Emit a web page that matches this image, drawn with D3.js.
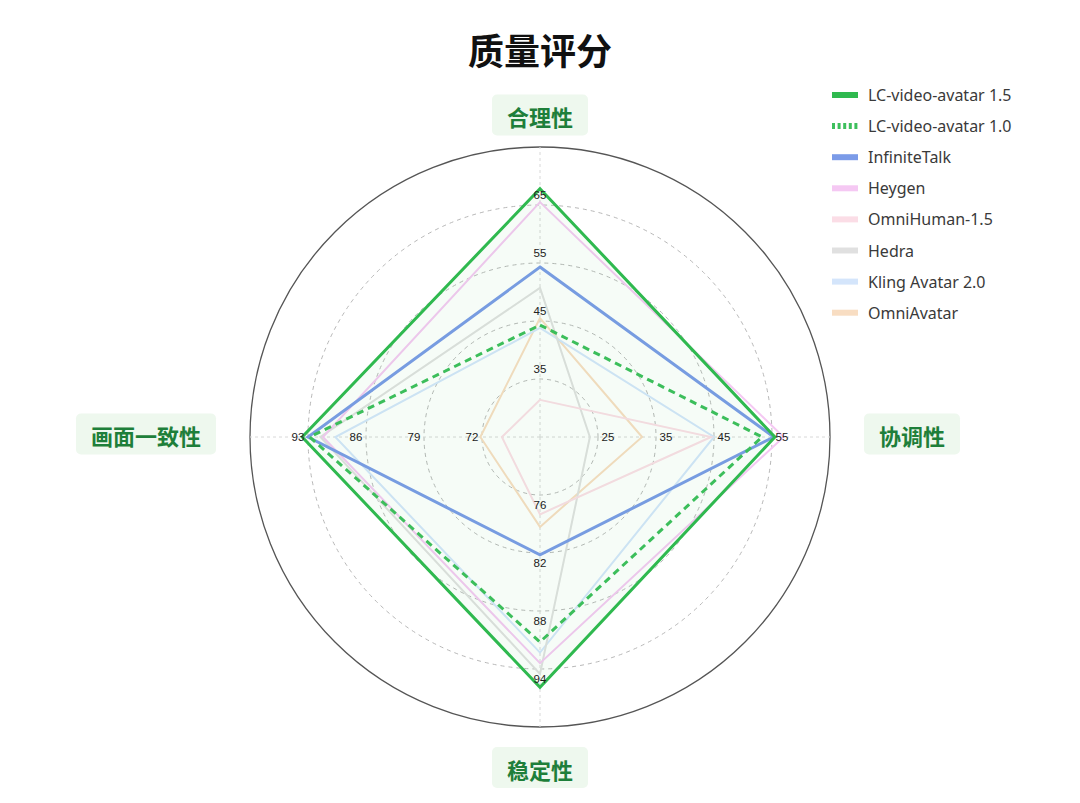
<!DOCTYPE html>
<html>
<head>
<meta charset="utf-8">
<script src="https://cdn.jsdelivr.net/npm/d3@7"></script>
<style>
    body { margin: 0; background: #fff; }
    svg { display: block; }
</style>
</head>
<body>
<svg id="chart"></svg>
<script>
// Indicators, in order: top, right, bottom, left
const indicators = ["合理性", "协调性", "稳定性", "画面一致性"];
const indicatorMin = [25, 15, 70, 65];
const indicatorMax = [75, 65, 100, 100];
const tickLabels = [
    [35, 45, 55, 65],
    [25, 35, 45, 55],
    [76, 82, 88, 94],
    [72, 79, 86, 93]
];

const seriesNames = [
    "LC-video-avatar 1.5",
    "LC-video-avatar 1.0",
    "InfiniteTalk",
    "Heygen",
    "OmniHuman-1.5",
    "Hedra",
    "Kling Avatar 2.0",
    "OmniAvatar"
];

// values per series: [合理性, 协调性, 稳定性, 画面一致性]
const lcAvatar15 = [67.8, 55.5, 95.9, 93.7];
const lcAvatar10 = [44.3, 53.3, 91.2, 92.8];
const infiniteTalk = [54.3, 55.3, 82.2, 93.0];
const heygen = [65.5, 57.0, 93.4, 91.2];
const omniHuman = [31.4, 44.5, 78.0, 69.6];
const hedra = [50.7, 23.6, 94.5, 91.5];
const klingAvatar = [43.8, 45.0, 92.3, 89.7];
const omniAvatar = [45.5, 32.6, 79.3, 72.2];

const seriesValues = [lcAvatar15, lcAvatar10, infiniteTalk, heygen, omniHuman, hedra, klingAvatar, omniAvatar];
const seriesColors = ["#2fb94f", "#3dbf5c", "#7b9be8", "#f5c8f3", "#fbdde6", "#e0e0e0", "#d4e5fb", "#f8ddc2"];

const width = 1080;
const height = 803;
const cx = 540, cy = 437, R = 290;
const splitNumber = 5;

const svg = d3.select("#chart").attr("width", width).attr("height", height);

// one scale per axis
const scales = indicators.map((d, i) =>
    d3.scaleLinear().domain([indicatorMin[i], indicatorMax[i]]).range([0, R]));
const angles = [-Math.PI / 2, 0, Math.PI / 2, Math.PI];

function point(i, r) {
    return [cx + r * Math.cos(angles[i]), cy + r * Math.sin(angles[i])];
}

// Title
svg.append("text")
    .attr("x", cx).attr("y", 49)
    .attr("text-anchor", "middle")
    .attr("dominant-baseline", "central")
    .attr("font-family", "'Noto Sans CJK SC', sans-serif")
    .attr("font-size", 36)
    .attr("font-weight", "bold")
    .attr("fill", "#111")
    .text("质量评分");

// Split rings
const rings = d3.range(1, splitNumber + 1).map(k => R * k / splitNumber);
svg.append("g").selectAll("circle")
    .data(rings)
    .join("circle")
    .attr("cx", cx).attr("cy", cy)
    .attr("r", d => d)
    .attr("fill", "none")
    .attr("stroke", (d, i) => i === splitNumber - 1 ? "#555" : "#b8b8b8")
    .attr("stroke-width", (d, i) => i === splitNumber - 1 ? 1.3 : 1)
    .attr("stroke-dasharray", (d, i) => i === splitNumber - 1 ? null : "4 4");

// Axis lines
svg.append("g").selectAll("line")
    .data(indicators)
    .join("line")
    .attr("x1", cx).attr("y1", cy)
    .attr("x2", (d, i) => point(i, R)[0])
    .attr("y2", (d, i) => point(i, R)[1])
    .attr("stroke", "#d8d8d8")
    .attr("stroke-width", 1)
    .attr("stroke-dasharray", "3 3");

// Series polygons (drawn last-first so the first series sits on top)
const line = d3.line().curve(d3.curveLinearClosed);
const seriesG = svg.append("g");
const order = d3.range(seriesNames.length).reverse();

order.forEach(s => {
    const pts = seriesValues[s].map((v, i) => point(i, scales[i](v)));
    const isMain = s === 0;
    const thick = s <= 2;
    seriesG.append("path")
        .attr("d", line(pts))
        .attr("fill", isMain ? "rgba(47,185,79,0.045)" : "none")
        .attr("stroke", seriesColors[s])
        .attr("stroke-width", thick ? 3 : 2)
        .attr("stroke-linejoin", "miter")
        .attr("stroke-dasharray", s === 1 ? "7 5" : null);
});

// Axis tick labels
const labelG = svg.append("g")
    .attr("font-family", "'Liberation Sans', Arial, sans-serif")
    .attr("font-size", 11.5)
    .attr("fill", "#222");

tickLabels.forEach((labels, i) => {
    labels.forEach(v => {
        const p = point(i, scales[i](v) + 10);
        labelG.append("text")
            .attr("x", p[0]).attr("y", p[1])
            .attr("text-anchor", "middle")
            .attr("dominant-baseline", "central")
            .text(v);
    });
});

// Indicator name boxes
const nameFont = 22;
const namePadX = 15, nameBoxH = 41;
indicators.forEach((name, i) => {
    const tw = name.length * nameFont;
    const bw = tw + namePadX * 2;
    let bx, by;
    if (i === 0) { bx = cx - bw / 2; by = cy - R - 32 - nameBoxH / 2; }
    else if (i === 1) { bx = cx + R + 34; by = cy - 3 - nameBoxH / 2; }
    else if (i === 2) { bx = cx - bw / 2; by = cy + R + 20; }
    else { bx = cx - R - 34 - bw; by = cy - 3 - nameBoxH / 2; }
    const g = svg.append("g");
    g.append("rect")
        .attr("x", bx).attr("y", by)
        .attr("width", bw).attr("height", nameBoxH)
        .attr("rx", 5)
        .attr("fill", "#eef8ee");
    g.append("text")
        .attr("x", bx + bw / 2).attr("y", by + nameBoxH / 2 + 1)
        .attr("text-anchor", "middle")
        .attr("dominant-baseline", "central")
        .attr("font-family", "'Noto Sans CJK SC', sans-serif")
        .attr("font-size", nameFont)
        .attr("font-weight", "bold")
        .attr("fill", "#1e7f3a")
        .text(name);
});

// Legend
const legend = svg.append("g").attr("transform", "translate(832, 95)");
const legendItem = legend.selectAll("g")
    .data(seriesNames)
    .join("g")
    .attr("transform", (d, i) => `translate(0, ${i * 31.1})`);

legendItem.append("line")
    .attr("x1", 0).attr("x2", 26)
    .attr("y1", 0).attr("y2", 0)
    .attr("stroke", (d, i) => seriesColors[i])
    .attr("stroke-width", 6)
    .attr("stroke-dasharray", (d, i) => i === 1 ? "3 2.6" : null);

legendItem.append("text")
    .attr("x", 36).attr("y", 0)
    .attr("dominant-baseline", "central")
    .attr("font-family", "'Noto Sans', sans-serif")
    .attr("font-size", 16)
    .attr("fill", "#3a3a3a")
    .text(d => d);
</script>
</body>
</html>
